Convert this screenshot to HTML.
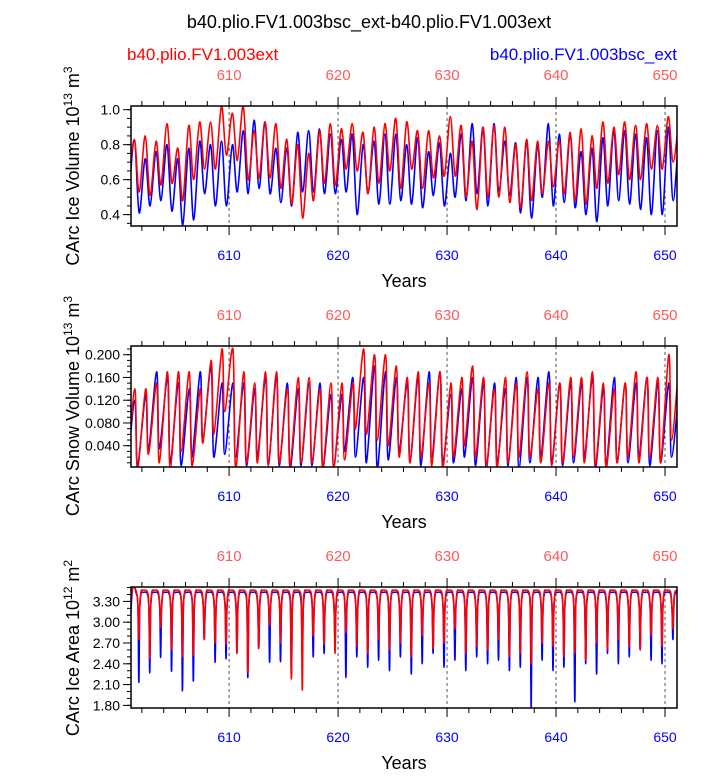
<!DOCTYPE html>
<html><head><meta charset="utf-8"><style>
body{margin:0;background:#fff;}
svg text{font-family:"Liberation Sans",sans-serif;}
</style></head><body>
<svg id="c" width="723" height="771" xmlns="http://www.w3.org/2000/svg">
<text x="369" y="28" font-size="18" text-anchor="middle">b40.plio.FV1.003bsc_ext-b40.plio.FV1.003ext</text>
<text x="127" y="60" font-size="17" fill="#ff0000">b40.plio.FV1.003ext</text>
<text x="677" y="60" font-size="17" fill="#0000ff" text-anchor="end">b40.plio.FV1.003bsc_ext</text>
</svg>
<script>
// ---- data (per-year seasonal extremes, years 601..650) ----
const years = [601,602,603,604,605,606,607,608,609,610,611,612,613,614,615,616,617,618,619,620,621,622,623,624,625,626,627,628,629,630,631,632,633,634,635,636,637,638,639,640,641,642,643,644,645,646,647,648,649,650];
const volRedMax = [0.83,0.85,0.82,0.92,0.78,0.91,0.93,0.93,1.02,0.98,1.02,0.88,0.93,0.92,0.83,0.80,0.75,0.88,0.92,0.89,0.92,0.87,0.90,0.92,0.95,0.93,0.88,0.88,0.85,0.96,0.91,0.82,0.90,0.91,0.90,0.80,0.83,0.82,0.82,0.82,0.87,0.89,0.85,0.93,0.90,0.93,0.91,0.92,0.91,0.96];
const volRedMin = [0.53,0.51,0.57,0.58,0.48,0.60,0.66,0.66,0.74,0.71,0.60,0.61,0.61,0.55,0.46,0.38,0.48,0.58,0.57,0.66,0.65,0.52,0.58,0.65,0.55,0.66,0.55,0.61,0.62,0.62,0.50,0.43,0.50,0.50,0.47,0.44,0.48,0.52,0.56,0.52,0.48,0.46,0.55,0.58,0.63,0.60,0.60,0.66,0.66,0.70];
const volBlueMax = [0.82,0.72,0.76,0.80,0.72,0.78,0.82,0.80,0.82,0.80,0.88,0.94,0.93,0.78,0.78,0.87,0.88,0.89,0.86,0.83,0.86,0.80,0.82,0.86,0.86,0.80,0.84,0.76,0.81,0.75,0.86,0.92,0.90,0.92,0.82,0.81,0.82,0.80,0.92,0.86,0.86,0.76,0.78,0.84,0.88,0.88,0.86,0.84,0.88,0.90];
const volBlueMin = [0.41,0.45,0.48,0.42,0.34,0.37,0.52,0.45,0.45,0.53,0.52,0.55,0.52,0.47,0.45,0.53,0.53,0.52,0.52,0.53,0.40,0.52,0.46,0.46,0.48,0.46,0.44,0.51,0.45,0.50,0.48,0.52,0.45,0.53,0.51,0.41,0.38,0.50,0.45,0.47,0.44,0.40,0.36,0.45,0.48,0.46,0.43,0.40,0.40,0.48];
const snowRedMax = [0.14,0.14,0.15,0.17,0.17,0.17,0.14,0.19,0.21,0.21,0.17,0.15,0.17,0.17,0.14,0.16,0.16,0.14,0.15,0.15,0.15,0.21,0.20,0.20,0.18,0.16,0.17,0.15,0.17,0.15,0.16,0.18,0.16,0.14,0.16,0.15,0.17,0.14,0.15,0.15,0.16,0.16,0.17,0.15,0.14,0.15,0.17,0.16,0.16,0.20];
const snowRedMin = [0.0,0.025,0.01,0.0,0.03,0.005,0.045,0.06,0.10,0.0,0.01,0.01,0.005,0.01,0.005,0.01,0.01,0.0,0.0,0.015,0.07,0.06,0.05,0.04,0.02,0.01,0.02,0.005,0.0,0.02,0.04,0.02,0.005,0.0,0.01,0.02,0.02,0.01,0.005,0.01,0.02,0.01,0.005,0.0,0.01,0.02,0.01,0.02,0.01,0.05];
const snowBlueMax = [0.12,0.13,0.17,0.16,0.15,0.14,0.17,0.18,0.15,0.15,0.15,0.14,0.16,0.16,0.15,0.14,0.15,0.15,0.13,0.13,0.16,0.16,0.18,0.17,0.16,0.15,0.16,0.17,0.17,0.13,0.14,0.16,0.15,0.15,0.14,0.16,0.16,0.16,0.17,0.15,0.15,0.15,0.16,0.14,0.16,0.15,0.15,0.16,0.15,0.15];
const snowBlueMin = [0.005,0.03,0.035,0.01,0.005,0.02,0.05,0.02,0.025,0.02,0.005,0.02,0.01,0.005,0.0,0.005,0.005,0.0,0.005,0.03,0.02,0.01,0.0,0.015,0.03,0.01,0.005,0.02,0.01,0.01,0.02,0.005,0.0,0.01,0.005,0.0,0.01,0.02,0.01,0.005,0.01,0.02,0.0,0.005,0.01,0.01,0.02,0.005,0.01,0.02];
const areaRedMax = [3.46,3.46,3.46,3.46,3.46,3.46,3.46,3.46,3.46,3.46,3.46,3.46,3.46,3.46,3.46,3.46,3.46,3.46,3.46,3.46,3.46,3.46,3.46,3.46,3.46,3.46,3.46,3.46,3.46,3.46,3.46,3.46,3.46,3.46,3.46,3.46,3.46,3.46,3.46,3.46,3.46,3.46,3.46,3.46,3.46,3.46,3.46,3.46,3.46,3.46];
const areaRedMin = [2.75,2.48,2.92,2.60,2.50,2.52,2.75,2.70,2.68,2.55,2.28,2.62,2.95,2.70,2.18,2.02,2.80,2.68,2.55,2.85,2.65,2.55,2.75,2.60,2.70,2.50,2.80,2.62,2.70,2.90,2.55,2.65,2.60,2.75,2.50,2.55,2.40,2.70,2.65,2.50,2.55,2.45,2.70,2.60,2.75,2.65,2.60,2.80,2.65,2.90];
const areaBlueMax = [3.43,3.43,3.43,3.43,3.43,3.43,3.43,3.43,3.43,3.43,3.43,3.43,3.43,3.43,3.43,3.43,3.43,3.43,3.43,3.43,3.43,3.43,3.43,3.43,3.43,3.43,3.43,3.43,3.43,3.43,3.43,3.43,3.43,3.43,3.43,3.43,3.43,3.43,3.43,3.43,3.43,3.43,3.43,3.43,3.43,3.43,3.43,3.43,3.43,3.43];
const areaBlueMin = [2.13,2.27,2.49,2.29,2.01,2.15,2.75,2.42,2.47,2.55,2.20,2.62,2.42,2.43,2.20,2.50,2.50,2.55,2.70,2.20,2.50,2.35,2.45,2.30,2.50,2.25,2.40,2.55,2.35,2.45,2.30,2.50,2.40,2.45,2.30,2.35,1.75,2.45,2.30,2.35,1.85,2.40,2.25,2.55,2.40,2.50,2.60,2.45,2.40,2.75];
const xTicks = [610,620,630,640,650];
const volTicks = ["0.4","0.6","0.8","1.0"];
const snowTicks = ["0.040","0.080","0.120","0.160","0.200"];
const areaTicks = ["1.80","2.10","2.40","2.70","3.00","3.30"];

const svg=document.getElementById('c');
const NS='http://www.w3.org/2000/svg';
function el(tag,attrs,parent){const e=document.createElementNS(NS,tag);for(const k in attrs)e.setAttribute(k,attrs[k]);(parent||svg).appendChild(e);return e;}
const X0=131,X1=677,XMIN=601,XMAX=651.1;
const sx=v=>X0+(v-XMIN)/(XMAX-XMIN)*(X1-X0);
function smooth(pts){
 let d='M'+pts[0][0].toFixed(1)+','+pts[0][1].toFixed(1);
 for(let i=0;i<pts.length-1;i++){
  const p0=pts[Math.max(0,i-1)],p1=pts[i],p2=pts[i+1],p3=pts[Math.min(pts.length-1,i+2)];
  const t=0.16;
  const c1=[p1[0]+(p2[0]-p0[0])*t,p1[1]+(p2[1]-p0[1])*t];
  const c2=[p2[0]-(p3[0]-p1[0])*t,p2[1]-(p3[1]-p1[1])*t];
  d+='C'+c1.map(v=>v.toFixed(1)).join(',')+' '+c2.map(v=>v.toFixed(1)).join(',')+' '+p2[0].toFixed(1)+','+p2[1].toFixed(1);
 }
 return d;
}

const panels=[
 {name:'ice-volume',top:106,bot:226,ymin:0.335,ymax:1.021,ticks:volTicks,minor:0.05,
  title:['CArc Ice Volume 10','13',' m','3'],titleY:166,
  series:[[volBlueMax,volBlueMin,'#0000ff'],[volRedMax,volRedMin,'#ff0000']],tmax:0.3,tmin:0.75,shape:'sine'},
 {name:'snow-volume',top:346,bot:467,ymin:0.0026,ymax:0.2153,ticks:snowTicks,minor:0.01,
  title:['CArc Snow Volume 10','13',' m','3'],titleY:406,
  series:[[snowBlueMax,snowBlueMin,'#0000ff'],[snowRedMax,snowRedMin,'#ff0000']],tmax:0.35,tmin:0.6,shape:'saw'},
 {name:'ice-area',top:587,bot:708,ymin:1.762,ymax:3.508,ticks:areaTicks,minor:0.1,
  title:['CArc Ice Area 10','12',' m','2'],titleY:648,
  series:[[areaBlueMax,areaBlueMin,'#0000ff'],[areaRedMax,areaRedMin,'#ff0000']],tmax:0.5,tmin:0.72,shape:'dip'}
];

panels.forEach((p,pi)=>{
 const sy=v=>p.bot-(v-p.ymin)/(p.ymax-p.ymin)*(p.bot-p.top);
 const g=el('g',{});
 
 
 const cid='clip'+pi;
 const cp=el('clipPath',{id:cid},g);el('rect',{x:X0,y:p.top,width:X1-X0,height:p.bot-p.top},cp);
 xTicks.forEach(t=>{const l=el('line',{x1:sx(t),x2:sx(t),y1:p.top,y2:p.bot,stroke:'#555','stroke-width':1,'stroke-dasharray':'3,3'},g);
  
  });
 p.series.forEach(([mx,mn,col])=>{
  const pts=[];
  pts.push([sx(XMIN-0.3),sy(mn[0])]);
  years.forEach((y,i)=>{
   if(p.shape==='dip'){
    pts.push([sx(y+0.1),sy(mx[i])]);
    pts.push([sx(y+0.5),sy(mx[i]-0.02)]);
    pts.push([sx(y+0.64),sy(mx[i]-0.25)]);
    pts.push([sx(y+p.tmin),sy(mn[i])]);
    pts.push([sx(y+0.8),sy(mx[i]-0.25)]);
    pts.push([sx(y+0.92),sy(mx[i]-0.02)]);
   } else {
    pts.push([sx(y+p.tmax),sy(mx[i])]);pts.push([sx(y+p.tmin),sy(mn[i])]);
   }
  });
  const last=years.length-1;
  pts.push([sx(years[last]+1+p.tmax),sy(mx[last])]);
  const d=smooth(pts);
  const path=el('path',{d:d,fill:'none',stroke:col,'stroke-width':1.6,'stroke-linejoin':'round','clip-path':'url(#'+cid+')'},g);
  
  
 });
 el('rect',{x:X0,y:p.top,width:X1-X0,height:p.bot-p.top,fill:'none',stroke:'#000','stroke-width':1.5},g);
 for(let yr=602;yr<=650;yr+=2){
  const maj=yr%10===0,len=maj?9:5;
  el('line',{x1:sx(yr),x2:sx(yr),y1:p.top,y2:p.top-len,stroke:'#000','stroke-width':1},g);
  el('line',{x1:sx(yr),x2:sx(yr),y1:p.bot,y2:p.bot+len,stroke:'#000','stroke-width':1},g);
 }
 xTicks.forEach(t=>{
  const a=el('text',{x:sx(t),y:p.top-26,'font-size':15,fill:'#ff5a5a','text-anchor':'middle'},g);a.textContent=t;
  
  
  const b=el('text',{x:sx(t),y:p.bot+34,'font-size':14,fill:'#0000ff','text-anchor':'middle'},g);b.textContent=t;
  
  
 });
 const xt=el('text',{x:404,y:p.bot+61,'font-size':18,'text-anchor':'middle'},g);xt.textContent='Years';
 
 
 for(let v=Math.ceil(p.ymin/p.minor)*p.minor;v<=p.ymax;v+=p.minor){
  el('line',{x1:X0,x2:X0-4,y1:sy(v),y2:sy(v),stroke:'#000','stroke-width':1},g);
 }
 p.ticks.forEach(t=>{
  const v=parseFloat(t);
  el('line',{x1:X0,x2:X0-8,y1:sy(v),y2:sy(v),stroke:'#000','stroke-width':1},g);
  const tx=el('text',{x:X0-11,y:sy(v)+5,'font-size':14,'text-anchor':'end'},g);tx.textContent=t;
  
  
 });
 const yt=el('text',{x:0,y:0,'font-size':18,'text-anchor':'middle',transform:'translate(79,'+p.titleY+') rotate(-90)'},g);
 
 
 const s1=el('tspan',{},yt);s1.textContent=p.title[0];
 const s2=el('tspan',{'font-size':12,dy:-7},yt);s2.textContent=p.title[1];
 const s3=el('tspan',{dy:7},yt);s3.textContent=p.title[2];
 const s4=el('tspan',{'font-size':12,dy:-7},yt);s4.textContent=p.title[3];
});
</script>
</body></html>
